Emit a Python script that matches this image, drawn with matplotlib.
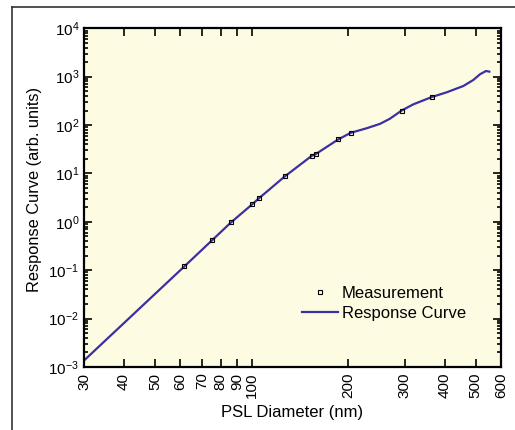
import numpy as np
import matplotlib
matplotlib.use("Agg")
import matplotlib.pyplot as plt
from matplotlib.lines import Line2D
from matplotlib.ticker import LogLocator, NullFormatter, FixedLocator, FixedFormatter, NullLocator

plt.rcParams['font.family'] = ['Liberation Sans', 'DejaVu Sans']
plt.rcParams['mathtext.fontset'] = 'custom'
plt.rcParams['mathtext.rm'] = 'Liberation Sans'

# measured points (PSL diameter in nm, response)
meas_d = [61.7, 75.4, 86.2, 100.5, 105.5, 126.9, 154, 158.5, 186.4, 204, 294, 365]
meas_r = [0.120, 0.42, 0.97, 2.31, 3.08, 8.67, 23.1, 25.1, 50.6, 69.3, 200, 380]

# response curve
curve_d = [30, 61.7, 75.4, 86.2, 100.5, 105.5, 126.9, 154, 158.5, 186.4, 204,
           228.6, 251.6, 270, 294, 319.5, 365, 406, 457.8, 491.7, 516, 538.8, 551.7]
curve_r = [0.00136, 0.120, 0.42, 0.97, 2.31, 3.08, 8.67, 23.1, 25.1, 50.6, 69.3,
           86, 106, 135, 200, 268, 380, 475, 642, 855, 1122, 1312, 1270]

xtick_vals = [30, 40, 50, 60, 70, 80, 90, 100, 200, 300, 400, 500, 600]

fig = plt.figure(figsize=(5.15, 4.30), dpi=100)
ax = fig.add_axes([84/515, 1-367/430, (501-84)/515, (367-28.3)/430])
ax.set_facecolor('#fdfce3')

ax.plot(curve_d, curve_r, color='#3c2fa3', lw=1.6, label='Response Curve', zorder=2)
ax.plot(meas_d, meas_r, ls='none', marker='s', ms=3.5, mfc='none', mec='black',
        mew=0.8, label='Measurement', zorder=3)

ax.set_xscale('log')
ax.set_yscale('log')
ax.set_xlim(30, 600)
ax.set_ylim(1e-3, 1e4)

ax.xaxis.set_major_locator(FixedLocator(xtick_vals))
ax.xaxis.set_major_formatter(FixedFormatter([str(v) for v in xtick_vals]))
ax.xaxis.set_minor_locator(NullLocator())
ax.yaxis.set_major_locator(LogLocator(base=10, numticks=20))
ax.yaxis.set_minor_locator(LogLocator(base=10, subs=np.arange(2, 10), numticks=20))
ax.yaxis.set_minor_formatter(NullFormatter())

ax.tick_params(which='both', direction='in', top=True, right=True, width=1.2)
ax.tick_params(which='major', length=6, labelsize=11)
ax.tick_params(which='minor', length=3)
ax.tick_params(axis='x', labelrotation=90, pad=4)
for s in ax.spines.values():
    s.set_linewidth(1.6)

ax.set_xlabel('PSL Diameter (nm)', fontsize=12, labelpad=5)
ax.set_ylabel('Response Curve (arb. units)', fontsize=11.8)
ax.yaxis.set_label_coords(-0.10, 0.525)

h, l = ax.get_legend_handles_labels()
ax.legend(h[::-1], l[::-1], loc='upper left', bbox_to_anchor=(301.7/515, 1-286/430),
          bbox_transform=fig.transFigure, frameon=False, fontsize=12,
          handlelength=2.2, handletextpad=0.2, labelspacing=0.3,
          borderpad=0, borderaxespad=0, numpoints=1)

# partial frame around the figure
fig.add_artist(Line2D([12/515, 1], [1-7/430, 1-7/430], color='#333333', lw=1.2))
fig.add_artist(Line2D([12/515, 12/515], [0, 1-7/430], color='#333333', lw=1.2))

fig.savefig('out.png', dpi=100)
